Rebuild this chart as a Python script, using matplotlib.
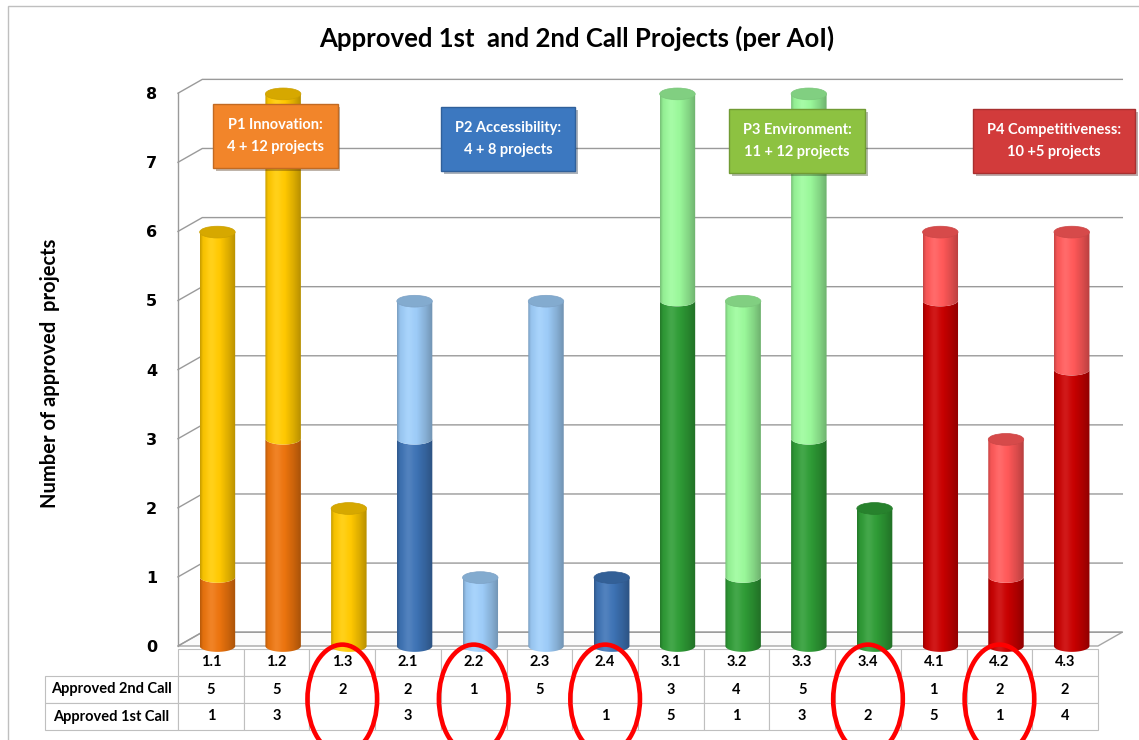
import numpy as np
import matplotlib
matplotlib.use('Agg')
import matplotlib.pyplot as plt
from matplotlib.colors import to_rgb
from matplotlib.path import Path
from matplotlib.patches import Ellipse, Polygon, Rectangle
import matplotlib.patheffects as pe

plt.rcParams['font.family'] = ['Lato', 'DejaVu Sans']

# data
categories = ['1.1', '1.2', '1.3', '2.1', '2.2', '2.3', '2.4',
              '3.1', '3.2', '3.3', '3.4', '4.1', '4.2', '4.3']
second_call = [5, 5, 2, 2, 1, 5, 0, 3, 4, 5, 0, 1, 2, 2]
first_call = [1, 3, 0, 3, 0, 0, 1, 5, 1, 3, 2, 5, 1, 4]
circled = ['1.3', '2.2', '2.4', '3.4', '4.2']

first_colors = {'1': '#EB730D', '2': '#3D72B4', '3': '#2E9B35', '4': '#C80000'}
second_colors = {'1': '#FFC800', '2': '#9CCBF7', '3': '#99F799', '4': '#FF5858'}

box_labels = ['P1 Innovation:\n4 + 12 projects', 'P2 Accessibility:\n4 + 8 projects',
              'P3 Environment:\n11 + 12 projects', 'P4 Competitiveness:\n10 +5 projects']
box_colors = ['#F2852A', '#3C78C0', '#8DC241', '#D23B3B']
box_pos = [(0.98, 7.38), (4.52, 7.34), (8.92, 7.31), (12.83, 7.31)]

# layout (pixels)
W, H = 1139, 740
ppu = 69.1          # pixels per project
y0px = 646          # pixel row of value 0
ylo, yhi = -0.25, 8.5
bot_px = y0px - ylo * ppu
ax_h_px = (yhi - ylo) * ppu

fig = plt.figure(figsize=(W / 100, H / 100), dpi=100)
ax = fig.add_axes([178 / W, (H - bot_px) / H, 920 / W, ax_h_px / H])
ax.patch.set_alpha(0)

hw, eh = 0.27, 0.085    # cylinder half width, ellipse half height
dx, dy = 0.37, 0.2      # depth offset


def cyl_gradient(color, n=80):
    rgb = np.array(to_rgb(color))
    t = np.linspace(0, 1, n)
    f = np.interp(t, [0, 0.08, 0.3, 0.55, 0.8, 1], [0.78, 0.96, 1.02, 1.0, 0.86, 0.72])
    hl = 0.10 * np.exp(-((t - 0.32) / 0.15) ** 2)
    col = rgb[None, :] * f[:, None]
    col = col + (1 - col) * hl[:, None]
    return np.clip(col, 0, 1)[None, :, :]


def seg_path(cx, y0, y1):
    t = np.linspace(np.pi, 2 * np.pi, 40)
    xb = cx + hw * np.cos(t)
    yb = y0 + eh * np.sin(t)
    xt = xb[::-1]
    yt = (y1 + eh * np.sin(t))[::-1]
    verts = np.concatenate([np.column_stack([xb, yb]), np.column_stack([xt, yt]),
                            [[xb[0], yb[0]]]])
    return Path(verts, closed=True)


# floor and walls
ax.add_patch(Polygon([(-0.5, 0), (13.5, 0), (13.5 + dx, dy), (-0.5 + dx, dy)],
                     closed=True, fc='#FBFBFB', ec='#A6A6A6', lw=1, zorder=1, clip_on=False))
for v in range(9):
    ax.plot([-0.5, -0.5 + dx, 13.5 + dx], [v, v + dy, v + dy],
            color='#9A9A9A', lw=1, zorder=1, clip_on=False)
ax.plot([-0.5, -0.5], [0, 8], color='#9A9A9A', lw=1, zorder=1, clip_on=False)

# cylinders
for i, cat in enumerate(categories):
    cx = i + 0.1
    p = cat[0]
    bottom = 0
    top_col = None
    for val, col in [(first_call[i], first_colors[p]), (second_call[i], second_colors[p])]:
        if val == 0:
            continue
        top = bottom + val
        im = ax.imshow(cyl_gradient(col), extent=[cx - hw, cx + hw, bottom - eh, top],
                       aspect='auto', interpolation='bilinear', zorder=3)
        im.set_clip_path(seg_path(cx, bottom, top), ax.transData)
        bottom = top
        top_col = col
    cap_rgb = np.array(to_rgb(top_col))
    ax.add_patch(Ellipse((cx, bottom - 0.01), 2 * hw, 2 * eh, fc=cap_rgb * 0.84,
                         ec=cap_rgb * 0.8, lw=0.5, zorder=4))

# callout boxes
for (x, y), txt, c in zip(box_pos, box_labels, box_colors):
    t = ax.text(x, y, txt, ha='center', va='center', color='white', fontsize=10.5,
                fontweight='bold', linespacing=1.75, zorder=10,
                bbox=dict(boxstyle='square,pad=0.95', fc=c, ec=np.array(to_rgb(c)) * 0.8, lw=1))
    t.get_bbox_patch().set_path_effects([pe.withSimplePatchShadow(offset=(2, -2), alpha=0.35)])

ax.set_xlim(-0.5, 13.5)
ax.set_ylim(ylo, yhi)
for s in ax.spines.values():
    s.set_visible(False)
ax.set_xticks([])
ax.set_yticks(range(9))
ax.tick_params(axis='y', length=0, pad=15)
for lab in ax.get_yticklabels():
    lab.set_fontfamily('DejaVu Sans')
    lab.set_fontweight('bold')
    lab.set_fontsize(11.5)


# table below
def fmt(v):
    return str(v) if v else ''


cell_text = [[''] + categories,
             ['Approved 2nd Call'] + [fmt(v) for v in second_call],
             ['Approved 1st Call'] + [fmt(v) for v in first_call]]


def ay(py):
    return (bot_px - py) / ax_h_px


tbl = ax.table(cellText=cell_text, colWidths=[133] + [65.7] * 14, cellLoc='center',
               bbox=[(45 - 178) / 920, ay(730), (1098 - 45) / 920, ay(649) - ay(730)])
tbl.auto_set_font_size(False)
tbl.set_fontsize(10.5)
for (r, c), cell in tbl.get_celld().items():
    cell.set_edgecolor('#BFBFBF')
    cell.set_linewidth(0.8)
    cell.get_text().set_fontweight('bold')
    if c == 0:
        cell._loc = 'left'
        cell.PAD = 0.02
        if r == 0:
            cell.set_linewidth(0)

# red circles around the table columns
for cat in circled:
    i = categories.index(cat)
    ax.add_patch(Ellipse((i, -0.77), 1.06, 1.58, fill=False, ec='#FF0000', lw=3.3,
                         zorder=20, clip_on=False))

# titles and frame
fig.text(577 / W, 1 - 38 / H, 'Approved 1st  and 2nd Call Projects (per AoI)', ha='center',
         va='center', fontsize=18.5, fontweight='bold')
fig.text(50 / W, 1 - 373 / H, 'Number of approved  projects', rotation=90, ha='center',
         va='center', fontsize=14.5, fontweight='bold')
fig.patches.append(Rectangle((8 / W, -0.01), 1.2, 1.01 - 6 / H, transform=fig.transFigure,
                             fill=False, ec='#BFBFBF', lw=1))

fig.savefig('out.png', dpi=100)
